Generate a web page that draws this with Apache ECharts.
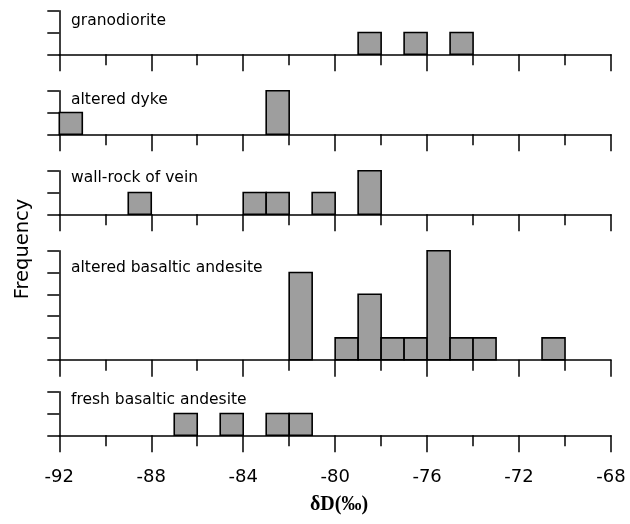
<!DOCTYPE html>
<html>
<head>
<meta charset="utf-8">
<script src="https://cdn.jsdelivr.net/npm/echarts@6/dist/echarts.min.js"></script>
<style>html,body{margin:0;padding:0;background:#fff}#c{width:630px;height:524px}</style>
</head>
<body>
<div id="c"></div>
<script>
// ---- data ----
const panelNames = ['granodiorite', 'altered dyke', 'wall-rock of vein', 'altered basaltic andesite', 'fresh basaltic andesite'];
const binWidth = 1;
// bin left edges (δD ‰) and frequencies per panel
const granodioriteBins = [-79, -77, -75];
const granodioriteCounts = [1, 1, 1];
const alteredDykeBins = [-92, -83];
const alteredDykeCounts = [1, 2];
const wallRockBins = [-89, -84, -83, -81, -79];
const wallRockCounts = [1, 1, 1, 1, 2];
const alteredBasalticBins = [-82, -80, -79, -78, -77, -76, -75, -74, -71];
const alteredBasalticCounts = [4, 1, 3, 1, 1, 5, 1, 1, 1];
const freshBasalticBins = [-87, -85, -83, -82];
const freshBasalticCounts = [1, 1, 1, 1];
const yMaxes = [2, 2, 2, 5, 2];
const xTickLabels = ['-92', '-88', '-84', '-80', '-76', '-72', '-68'];
const xMin = -92, xMax = -68, xStep = 4;
const xTitle = 'δD(‰)';
const yTitle = 'Frequency';

const binsList = [granodioriteBins, alteredDykeBins, wallRockBins, alteredBasalticBins, freshBasalticBins];
const countsList = [granodioriteCounts, alteredDykeCounts, wallRockCounts, alteredBasalticCounts, freshBasalticCounts];

// ---- layout ----
const left = 59.3, right = 19;
const panelTops = [10.7, 90.7, 170.7, 250.7, 391.7];
const unitPx = 21.8;
const labelTops = [13.4, 91.7, 170, 260, 392.4];

const grids = [], xAxes = [], yAxes = [], series = [], titles = [];
panelNames.forEach((name, i) => {
  const h = yMaxes[i] * unitPx;
  grids.push({left: left, right: right, top: panelTops[i], height: h, containLabel: false});
  const last = i === panelNames.length - 1;
  xAxes.push({
    type: 'value', gridIndex: i, min: xMin, max: xMax, interval: xStep,
    axisLine: {show: true, onZero: false, lineStyle: {color: '#000', width: 1.5}},
    axisTick: {show: true, inside: false, length: 17, lineStyle: {color: '#000', width: 1.5}},
    minorTick: {show: true, splitNumber: 2, length: 11, lineStyle: {color: '#000', width: 1.5}},
    splitLine: {show: false}, minorSplitLine: {show: false},
    axisLabel: {
      show: last, margin: 33, color: '#000', fontSize: 18, fontFamily: 'DejaVu Sans',
      formatter: v => {
        const idx = Math.round((v - xMin) / xStep);
        return xTickLabels[idx] !== undefined ? xTickLabels[idx] : '';
      }
    }
  });
  yAxes.push({
    type: 'value', gridIndex: i, min: 0, max: yMaxes[i], interval: 1,
    axisLine: {show: true, onZero: false, lineStyle: {color: '#000', width: 1.5}},
    axisTick: {show: true, inside: false, length: 12, lineStyle: {color: '#000', width: 1.5}},
    axisLabel: {show: false}, splitLine: {show: false}
  });
  const data = binsList[i].map((b, k) => [b, countsList[i][k]]);
  series.push({
    type: 'custom', xAxisIndex: i, yAxisIndex: i, data: data, clip: false,
    renderItem: function (params, api) {
      const x0 = api.value(0), c = api.value(1);
      const p0 = api.coord([x0, 0]);
      const p1 = api.coord([x0 + binWidth, c]);
      return {
        type: 'rect',
        shape: {x: p0[0], y: p1[1], width: p1[0] - p0[0], height: p0[1] - p1[1]},
        style: {fill: '#9e9e9e', stroke: '#000', lineWidth: 1.6}
      };
    }
  });
  titles.push({
    text: name, left: 71, top: labelTops[i], padding: 0,
    textStyle: {fontSize: 15.5, fontWeight: 'normal', fontFamily: 'DejaVu Sans', color: '#000'}
  });
});

const chart = echarts.init(document.getElementById('c'), null, {renderer: 'canvas'});
chart.setOption({
  animation: false,
  backgroundColor: '#fff',
  title: titles,
  grid: grids,
  xAxis: xAxes,
  yAxis: yAxes,
  series: series,
  graphic: [
    {type: 'text', x: 23, y: 249, rotation: Math.PI / 2,
     style: {text: yTitle, font: '19.5px "DejaVu Sans"', fill: '#000', align: 'center', verticalAlign: 'middle'}},
    {type: 'text', x: 339, y: 505,
     style: {text: xTitle, font: 'bold 20px "Liberation Serif"', fill: '#000', align: 'center', verticalAlign: 'middle'}}
  ]
});
</script>
</body>
</html>
